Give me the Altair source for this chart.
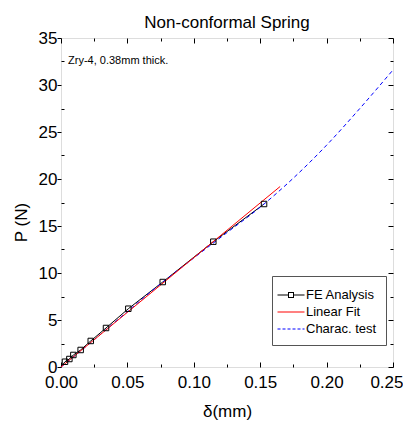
import altair as alt
import pandas as pd

# FE analysis points
fe_x = [0.0, 0.003, 0.0063, 0.0093, 0.0148, 0.0224, 0.0339, 0.0507, 0.0766, 0.1147, 0.1529]
fe_y = [0.0, 0.56, 0.85, 1.28, 1.81, 2.77, 4.15, 6.2, 9.04, 13.33, 17.34]
# Linear fit
fit_x = [0.0, 0.165]
fit_y = [0.0, 19.2]
# Characteristic test
test_x = [0.0, 0.025, 0.05, 0.075, 0.1, 0.125, 0.15, 0.175, 0.2, 0.225, 0.25]
test_y = [0.0, 2.9, 5.9, 8.85, 11.6, 14.3, 17.0, 20.1, 23.6, 27.5, 31.6]

series = ["FE Analysis", "Linear Fit", "Charac. test"]
series_colors = ["black", "red", "blue"]
x_major = [0.0, 0.05, 0.10, 0.15, 0.20, 0.25]
x_minor = [0.025, 0.075, 0.125, 0.175, 0.225]
y_major = [0, 5, 10, 15, 20, 25, 30, 35]
y_minor = [2.5, 7.5, 12.5, 17.5, 22.5, 27.5, 32.5]
note = "Zry-4, 0.38mm thick."

SANS = "Liberation Sans, Arial, sans-serif"

fe = pd.DataFrame({"x": fe_x, "y": fe_y})
fit = pd.DataFrame({"x": fit_x, "y": fit_y})
test = pd.DataFrame({"x": test_x, "y": test_y})
note_df = pd.DataFrame({"x": [0.0053], "y": [32.55], "t": [note]})
leg_df = pd.DataFrame({"s": series, "x": [0.1] * 3, "y": [10] * 3})

xs = alt.Scale(domain=[0, 0.25], nice=False, zero=False)
ys = alt.Scale(domain=[0, 35], nice=False, zero=False)


def tick_axis(orient, values, size):
    return alt.Axis(orient=orient, values=values, offset=-size, tickSize=size,
                    labels=False, domain=False, title=None, grid=False,
                    tickColor="black", tickWidth=1)


last_x = "datum.value >= 0.249"

# layer 1: FE line with label axes
fe_line = alt.Chart(fe).mark_line(color="black", strokeWidth=1).encode(
    x=alt.X("x:Q", scale=xs, axis=alt.Axis(
        orient="bottom", values=x_major, format=".2f", ticks=False, tickSize=0,
        labelPadding=7, labelFlush=False, domain=False, grid=False, title="δ(mm)",
        labelAlign={"condition": {"test": last_x, "value": "right"}, "value": "center"},
        labelOffset={"condition": {"test": last_x, "value": 10}, "value": 0},
        labelFont=SANS, labelFontSize=17, labelColor="black",
        titleFont=SANS, titleFontSize=17, titleFontWeight="normal",
        titleColor="black", titleY=44, titleBaseline="middle")),
    y=alt.Y("y:Q", scale=ys, axis=alt.Axis(
        orient="left", values=y_major, tickSize=4, labelPadding=0, domain=False,
        grid=False, tickColor="black", title="P (N)", labelFlush=False,
        labelFont=SANS, labelFontSize=17, labelColor="black", labelBaseline="middle",
        titleFont=SANS, titleFontSize=17, titleFontWeight="normal",
        titleColor="black", titleX=-40, titleY=184, titleBaseline="middle",
        titleAlign="center")),
)

blue = alt.Chart(test).mark_line(color="blue", strokeWidth=1, strokeDash=[4, 3],
                                  interpolate="monotone").encode(
    x=alt.X("x:Q", scale=xs, axis=tick_axis("bottom", x_major, 5)),
    y=alt.Y("y:Q", scale=ys, axis=tick_axis("left", y_minor, 3)),
)

red = alt.Chart(fit).mark_line(color="red", strokeWidth=1).encode(
    x=alt.X("x:Q", scale=xs, axis=tick_axis("bottom", x_minor, 3)),
    y=alt.Y("y:Q", scale=ys, axis=tick_axis("right", y_major, 5)),
)

squares = alt.Chart(fe).transform_filter("datum.x > 0").mark_point(
    shape="square", filled=False, color="black", size=30, strokeWidth=1, opacity=1
).encode(
    x=alt.X("x:Q", scale=xs, axis=tick_axis("top", x_major, 5)),
    y=alt.Y("y:Q", scale=ys, axis=tick_axis("right", y_minor, 3)),
)

text = alt.Chart(note_df).mark_text(align="left", baseline="middle", font=SANS,
                                    fontSize=11, color="black").encode(
    x=alt.X("x:Q", scale=xs, axis=tick_axis("top", x_minor, 3)),
    y=alt.Y("y:Q", scale=ys, axis=None),
    text="t:N",
)


# legend symbols drawn as filled shapes (unit = 10px at symbolSize 400)
def bar(a, b, h=0.05):
    return f"M{a},{-h}H{b}V{h}H{a}Z"


fe_sym = (bar(-1.35, -0.3) + bar(0.3, 1.35)
          + "M-0.3,-0.3H0.3V0.3H-0.3Z" + "M-0.2,-0.2V0.2H0.2V-0.2Z")
line_sym = bar(-1.35, 1.35)
dash_sym = "".join(bar(round(s, 2), round(min(s + 0.3, 1.35), 2))
                   for s in [-1.35, -0.85, -0.35, 0.15, 0.65, 1.15])
sym_expr = (f"datum.value == 'FE Analysis' ? '{fe_sym}' : "
            f"(datum.value == 'Charac. test' ? '{dash_sym}' : '{line_sym}')")

legend = alt.Chart(leg_df).transform_filter("false").mark_point(
    filled=True, opacity=1
).encode(
    x=alt.X("x:Q", scale=xs, axis=None),
    y=alt.Y("y:Q", scale=ys, axis=None),
    color=alt.Color("s:N", scale=alt.Scale(domain=series, range=series_colors),
                    legend=alt.Legend(
                        title=None, orient="none", legendX=211, legendY=238,
                        strokeColor="#555555", fillColor="white", padding=9,
                        labelFont=SANS, labelFontSize=13, labelColor="black",
                        symbolSize=400, symbolStrokeWidth=0, rowPadding=0,
                        symbolType=alt.ExprRef(sym_expr),
                        symbolOpacity=1,
                        labelOffset=5)),
)

chart = alt.layer(fe_line, blue, red, squares, text, legend).resolve_axis(
    x="independent", y="independent"
).properties(
    width=332, height=329,
    autosize=alt.AutoSizeParams(type="none"),
    padding={"left": 53, "top": 30, "right": 10, "bottom": 55},
    title=alt.Title("Non-conformal Spring", font=SANS, fontSize=17,
                    fontWeight="normal", color="black", anchor="middle",
                    offset=9, dy=12),
).configure_view(stroke="black", strokeWidth=1.2).configure(background="white")

chart.save("out.html", embed_options={"renderer": "svg", "actions": False})
